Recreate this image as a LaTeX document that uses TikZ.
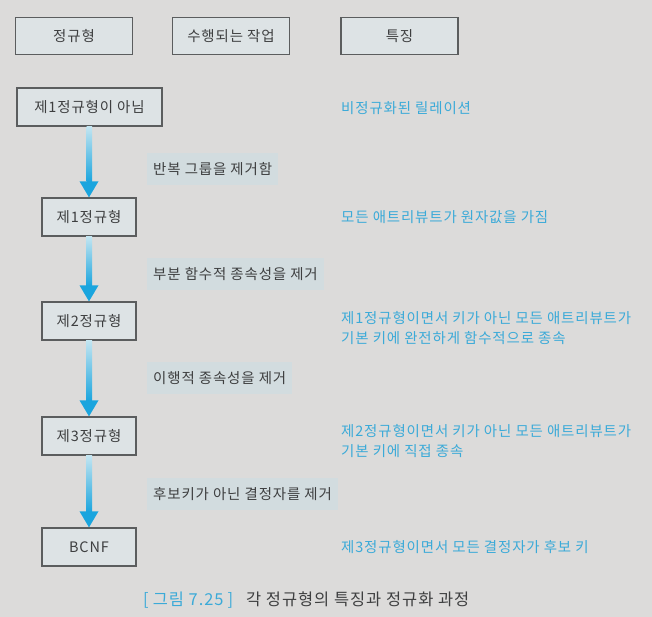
\documentclass[tikz,border=0pt]{standalone}
\usepackage{fontspec}
\setmainfont{Noto Sans CJK KR}[LetterSpace=6]
\usetikzlibrary{positioning,calc}
\definecolor{pageGray}{HTML}{DCDBDA}
\definecolor{boxFill}{HTML}{DDE3E5}
\definecolor{boxLine}{HTML}{5B5D5E}
\definecolor{labelFill}{HTML}{D2DCDF}
\definecolor{textDark}{HTML}{3E3F40}
\definecolor{charBlue}{HTML}{3BAAD8}
\definecolor{arrowBlue}{HTML}{1AA5DE}
\definecolor{arrowLight}{HTML}{C3E5F1}
\tikzset{
    headbox/.style={draw=boxLine,fill=boxFill,line width=1.3bp,
        minimum width=117bp,minimum height=37bp,inner sep=0pt,
        font=\fontsize{14.5}{17}\selectfont,text=textDark},
    formbox/.style={draw=boxLine,fill=boxFill,line width=1.3bp,
        minimum width=94bp,minimum height=38bp,inner sep=0pt,
        font=\fontsize{14.5}{17}\selectfont,text=textDark},
    steplabel/.style={fill=labelFill,anchor=west,inner xsep=6bp,inner ysep=0pt,
        minimum height=32bp,font=\fontsize{14.5}{17}\selectfont,text=textDark},
    feature/.style={anchor=west,inner sep=0pt,align=left,
        font=\fontsize{14.5}{19.5}\selectfont,text=charBlue}
}
% 위에서 아래로 그라데이션 화살표
\newcommand{\flowarrow}[2]{%
    \shade[top color=arrowLight,bottom color=arrowBlue]
        ($(#1.south)+(-3,0)$) rectangle ($(#2.north)+(3,-15.5)$);
    \fill[arrowBlue] ($(#2.north)+(-9.5,-16)$) -- ($(#2.north)+(9.5,-16)$)
        -- (#2.north) -- cycle;}

\begin{document}
\begin{tikzpicture}[x=1bp,y=-1bp]
    \fill[pageGray] (0,0) rectangle (652,617);
    \useasboundingbox (0,0) rectangle (652,617);

    % 머리글 상자 세 개
    \node[headbox] (hform) at (74,36) {정규형};
    \node[headbox] (hwork) at (231,36) {수행되는 작업};
    \node[headbox] (hfeat) at (399.5,36) {특징};

    % 왼쪽 정규형 열
    \node[formbox,minimum width=145bp] (nf0) at (89.5,107) {제1정규형이 아님};
    \node[formbox] (nf1) at (89,217) {제1정규형};
    \node[formbox] (nf2) at (89,321) {제2정규형};
    \node[formbox] (nf3) at (89,436) {제3정규형};
    \node[formbox] (bcnf) at (89,547) {BCNF};

    \flowarrow{nf0}{nf1}
    \flowarrow{nf1}{nf2}
    \flowarrow{nf2}{nf3}
    \flowarrow{nf3}{bcnf}

    % 수행되는 작업
    \node[steplabel] (s1) at (147,169) {반복 그룹을 제거함};
    \node[steplabel] (s2) at (147,274) {부분 함수적 종속성을 제거};
    \node[steplabel] (s3) at (147,378) {이행적 종속성을 제거};
    \node[steplabel] (s4) at (147,494) {후보키가 아닌 결정자를 제거};

    % 특징
    \node[feature] (c0) at (341,108) {비정규화된 릴레이션};
    \node[feature] (c1) at (341,217) {모든 애트리뷰트가 원자값을 가짐};
    \node[feature] (c2) at (341,328) {제1정규형이면서 키가 아닌 모든 애트리뷰트가\\
        기본 키에 완전하게 함수적으로 종속};
    \node[feature] (c3) at (341,441) {제2정규형이면서 키가 아닌 모든 애트리뷰트가\\
        기본 키에 직접 종속};
    \node[feature] (c4) at (341,547) {제3정규형이면서 모든 결정자가 후보 키};

    \node[anchor=west,inner sep=0pt,text=textDark,
        font=\fontsize{16.5}{19}\selectfont] (cap) at (143,600)
        {\textcolor{charBlue}{[\hspace{4bp}그림 7.25\hspace{4bp}]}\hspace{13bp}각 정규형의 특징과 정규화 과정};
\end{tikzpicture}
\end{document}
